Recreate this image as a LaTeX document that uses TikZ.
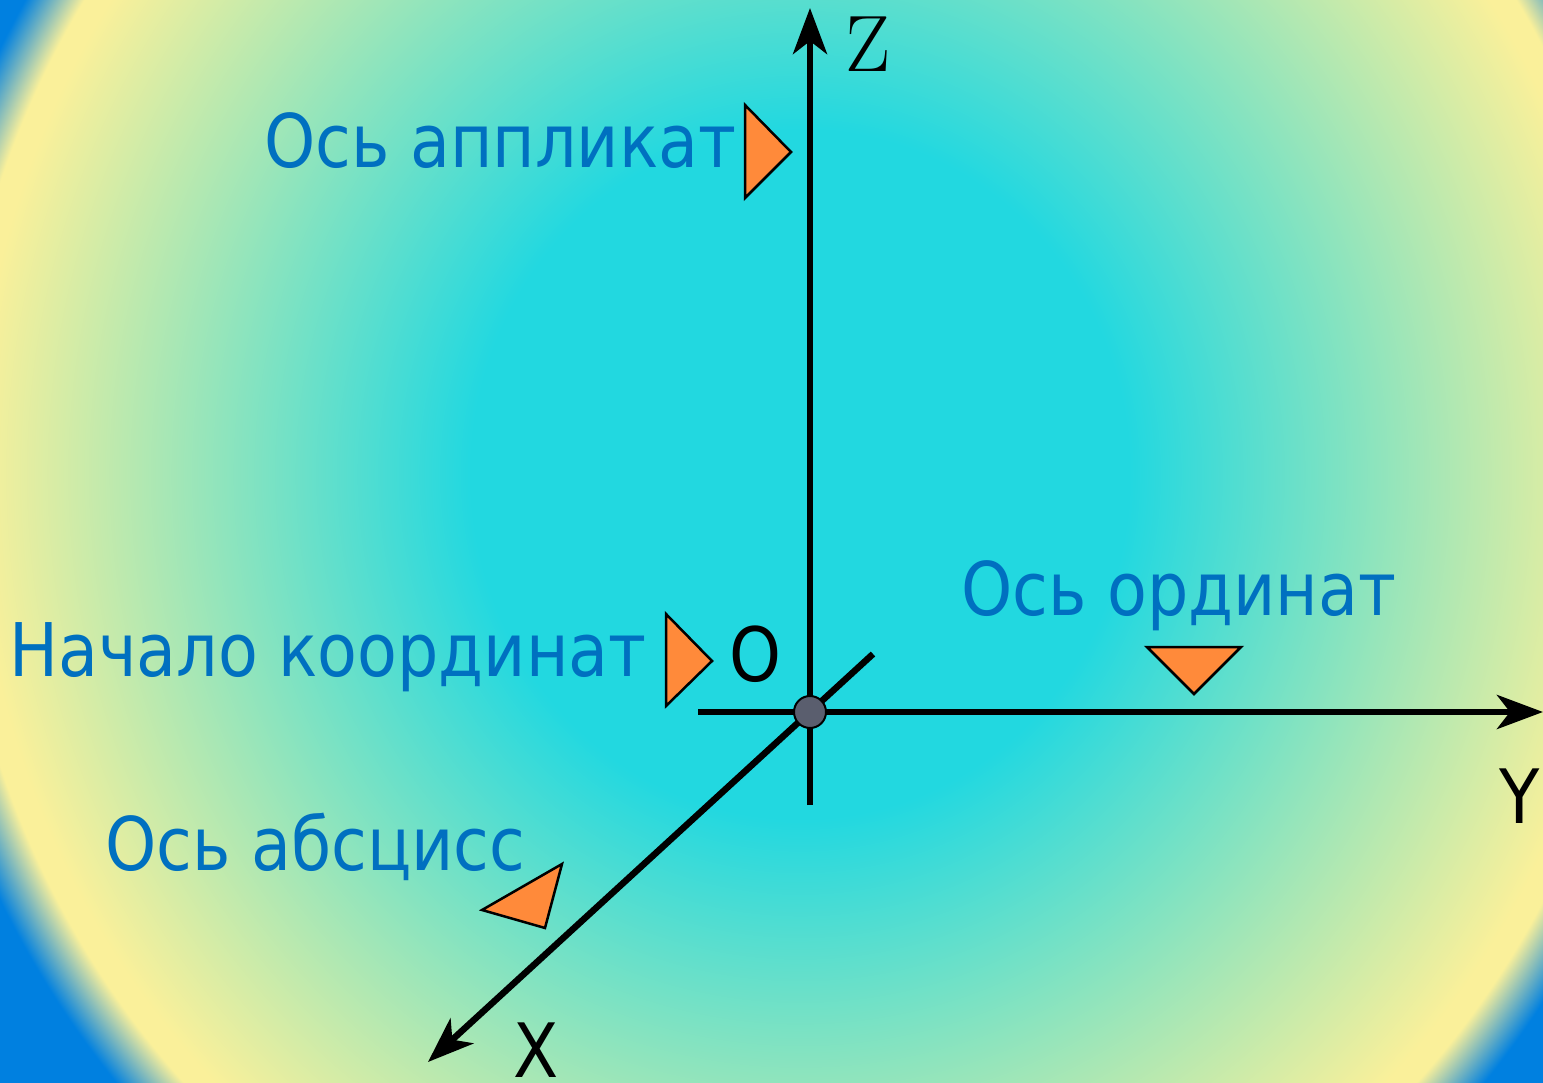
\documentclass[tikz,border=0pt]{standalone}
\usepackage{fontspec}
\usetikzlibrary{arrows.meta}
\newfontfamily\tahlike[FakeStretch=0.88]{DejaVu Sans}
\definecolor{cyanc}{HTML}{22D8E0}
\definecolor{yellowc}{HTML}{FAF09A}
\definecolor{bluec}{HTML}{0080E0}
\definecolor{labelblue}{HTML}{0070C0}
\definecolor{orangec}{HTML}{FF8A3A}
\definecolor{origfill}{HTML}{5A5E6E}
\pgfdeclareradialshading{bgshade}{\pgfpoint{0bp}{0bp}}{color(0bp)=(cyanc); color(9.1bp)=(cyanc); color(22.8bp)=(yellowc); color(23.4bp)=(yellowc); color(24.8bp)=(bluec); color(50bp)=(bluec)}
\tikzset{
  axisline/.style={line width=6.5pt, black},
  axisarrow/.style={axisline, -{Stealth[length=46pt,width=34pt,inset=13pt]}},
  pointer/.style={draw=black, line width=2.5pt, fill=orangec, line join=miter},
  bluelabel/.style={anchor=base west, inner sep=0pt, text=labelblue, font={\tahlike\fontsize{74}{74}\selectfont}},
  axlabel/.style={anchor=base west, inner sep=0pt, text=black, font={\tahlike\fontsize{75}{75}\selectfont}},
}
\begin{document}
\begin{tikzpicture}[x=1pt, y=-1pt]
\useasboundingbox (0,0) rectangle (1543,1083);
\begin{scope}
\clip (0,0) rectangle (1543,1083);
\fill[bluec] (0,0) rectangle (1543,1083);
\shade[shading=bgshade] (800,474) ellipse [x radius=905, y radius=947];
\end{scope}
% axes
\coordinate (zstart) at (810,805);
\coordinate (zend) at (810,8);
\coordinate (ystart) at (698,712);
\coordinate (yend) at (1543,712);
\coordinate (xstart) at (873,654);
\coordinate (xend) at (428,1062);
\draw[axisarrow] (zstart) -- (zend);
\draw[axisarrow] (ystart) -- (yend);
\draw[axisarrow] (xstart) -- (xend);
\node[circle, draw=black, line width=2pt, fill=origfill, minimum size=32pt, inner sep=0pt] (o) at (810,712) {};
% pointers
\draw[pointer] (745,105) -- (745,198) -- (791,152) -- cycle;
\draw[pointer] (666,614) -- (666,706) -- (712,661) -- cycle;
\draw[pointer] (1147,647) -- (1241,647) -- (1194,694) -- cycle;
\draw[pointer] (482,910) -- (562,864) -- (545,928) -- cycle;
% labels
\node[bluelabel] (lz) at (264,168) {Ось аппликат};
\node[bluelabel] (lo) at (9,676) {Начало координат};
\node[bluelabel] (ly) at (961,615) {Ось ординат};
\node[bluelabel] (lx) at (105,870) {Ось абсцисс};
\node[axlabel] (no) at (729,681) {O};
\node[axlabel] (ny) at (1499,823) {Y};
\node[axlabel] (nx) at (513,1077) {X};
\node[anchor=base west, inner sep=0pt, font={\fontsize{80}{80}\selectfont}] (nz) at (845,72) {Z};
\end{tikzpicture}
\end{document}
